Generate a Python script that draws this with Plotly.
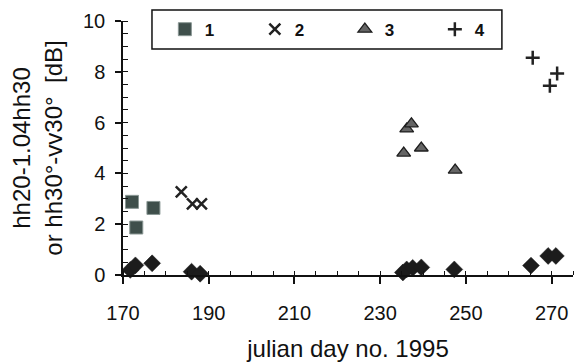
import plotly.graph_objects as go

# ---- data ----
s1_day = [172.1, 173.1, 177.1]
s1_val = [2.88, 1.87, 2.64]

s2_day = [183.6, 186.2, 188.3]
s2_val = [3.27, 2.80, 2.80]

s3_day = [236.2, 237.3, 235.5, 239.6, 247.5]
s3_val = [5.75, 5.95, 4.80, 5.00, 4.13]

s4_day = [265.6, 269.6, 271.3]
s4_val = [8.55, 7.45, 7.93]

d_day = [171.7, 172.9, 176.8, 186.0, 188.0, 235.3, 236.2, 237.6, 239.6, 247.3, 265.2, 269.2, 271.0]
d_val = [0.20, 0.38, 0.46, 0.13, 0.05, 0.10, 0.22, 0.28, 0.30, 0.22, 0.37, 0.75, 0.75]

x_ticks = [170, 190, 210, 230, 250, 270]
y_ticks = [0, 2, 4, 6, 8, 10]

FONT = "Liberation Sans, Arial, sans-serif"
INK = "#111111"

fig = go.Figure()

fig.add_trace(go.Scatter(
    x=d_day, y=d_val, mode="markers", showlegend=False, cliponaxis=False,
    marker=dict(symbol="diamond", size=13, color="#1c1c1c",
                line=dict(color="#1c1c1c", width=0.5))))

fig.add_trace(go.Scatter(
    x=s1_day, y=s1_val, mode="markers", name="1", cliponaxis=False,
    marker=dict(symbol="square", size=13, color="#3f4f4b",
                line=dict(color="#8a9794", width=1))))

fig.add_trace(go.Scatter(
    x=s2_day, y=s2_val, mode="markers", name="2", cliponaxis=False,
    marker=dict(symbol="x-thin", size=11, color="#222222",
                line=dict(color="#222222", width=2.5))))

fig.add_trace(go.Scatter(
    x=s3_day, y=s3_val, mode="markers", name="3", cliponaxis=False,
    marker=dict(symbol="triangle-up", size=12, color="#656565",
                line=dict(color="#1e1e1e", width=1.3))))

fig.add_trace(go.Scatter(
    x=s4_day, y=s4_val, mode="markers", name="4", cliponaxis=False,
    marker=dict(symbol="cross-thin", size=10, color="#222222",
                line=dict(color="#222222", width=2.5))))

# legend frame
fig.add_shape(type="rect", xref="paper", yref="paper",
              x0=0.0644, x1=0.842, y0=0.890, y1=1.043,
              line=dict(color=INK, width=1.5), fillcolor="white", layer="below")

fig.update_layout(
    width=580, height=362,
    margin=dict(l=123, r=7, t=21, b=87),
    paper_bgcolor="white", plot_bgcolor="white",
    font=dict(family=FONT, color=INK, size=20),
    showlegend=True,
    legend=dict(orientation="h", x=0.093, y=0.966, xanchor="left", yanchor="middle",
                bgcolor="rgba(0,0,0,0)", borderwidth=0,
                font=dict(size=17, family=FONT, color=INK, weight="bold"),
                entrywidth=45, entrywidthmode="pixels",
                traceorder="normal"),
    xaxis=dict(
        range=[170, 275], tickvals=x_ticks, showgrid=False, zeroline=False,
        showline=True, linecolor=INK, linewidth=1.5, automargin=False,
        ticks="outside", ticklen=7, tickwidth=1.5, tickcolor=INK,
        minor=dict(dtick=5, tick0=170, ticks="inside", ticklen=4, tickwidth=1, tickcolor=INK),
        tickfont=dict(size=20), ticklabelstandoff=12,
        title=dict(text="julian day no. 1995", font=dict(size=24), standoff=19),
    ),
    yaxis=dict(
        range=[0, 10], tickvals=y_ticks, showgrid=False, zeroline=False,
        showline=True, linecolor=INK, linewidth=1.5, automargin=False,
        ticks="outside", ticklen=6, tickwidth=1.5, tickcolor=INK,
        minor=dict(dtick=0.5, tick0=0, ticks="inside", ticklen=5, tickwidth=1, tickcolor=INK),
        tickfont=dict(size=20), ticklabelstandoff=6,
        title=dict(text="hh20-1.04hh30<br>or hh30°-vv30°\u00a0\u00a0[dB]", font=dict(size=24), standoff=14),
    ),
)

fig.write_html("out.html")
